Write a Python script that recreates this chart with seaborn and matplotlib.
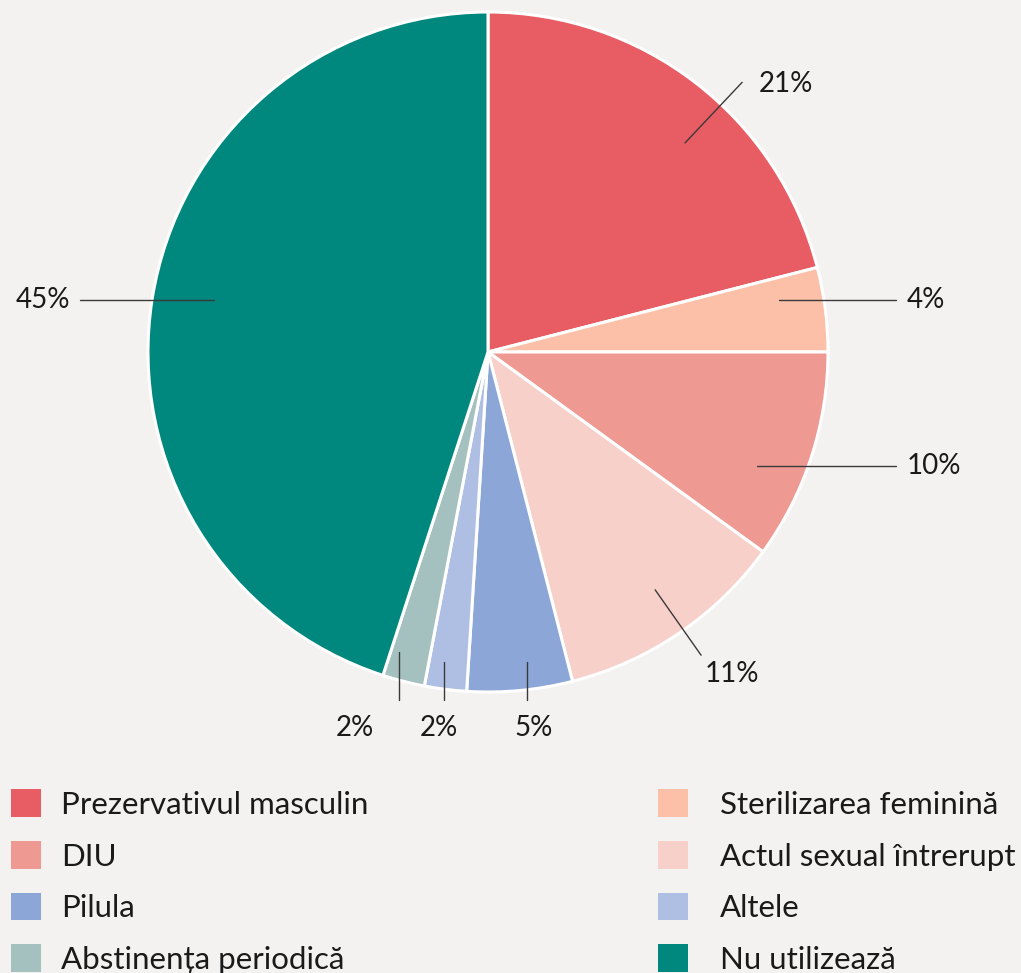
import numpy as np
import matplotlib
matplotlib.use("Agg")
import matplotlib.pyplot as plt
from matplotlib.patches import Patch
import seaborn as sns

# ---- data ----
categories = ["Prezervativul masculin", "Sterilizarea feminină", "DIU",
              "Actul sexual întrerupt", "Pilula", "Altele",
              "Abstinența periodică", "Nu utilizează"]
values = [21, 4, 10, 11, 5, 2, 2, 45]
pct_labels = ["21%", "4%", "10%", "11%", "5%", "2%", "2%", "45%"]
colors = ["#E85D63", "#FCC0A8", "#EE9A93", "#F7D0CA",
          "#8CA6D7", "#AFBFE3", "#A5C1BF", "#00877E"]

# label layout: (kind, inner radius, angle nudge deg, text x shift)
label_layout = [("radial", 0.845, -5.5, 0.0),
                ("h", 0.87, 2.9, 0.0),
                ("h", 0.86, -4.9, 0.0),
                ("radial", 0.855, 0.9, 0.0),
                ("v", 0.92, 1.7, 0.02),
                ("v", 0.92, -0.9, -0.015),
                ("v", 0.92, -2.2, -0.13),
                ("h", 0.82, -1.7, 0.0)]

BG = "#F3F2F0"
sns.set_theme(style="white")
plt.rcParams["font.family"] = ["Lato", "DejaVu Sans"]
palette = sns.color_palette(colors)

W, H = 1021, 973
fig = plt.figure(figsize=(W / 100, H / 100), dpi=100, facecolor=BG)
ax = fig.add_axes([0, 0, 1, 1])
ax.set_facecolor(BG)

cx, cy, R = 488, 352, 340
wedges, _ = ax.pie(values, colors=palette, startangle=90, counterclock=False,
                   radius=1.0, center=(0, 0),
                   wedgeprops=dict(edgecolor="white", linewidth=2.2))
ax.set_aspect("auto")
ax.set_xlim(-cx / R, (W - cx) / R)
ax.set_ylim((cy - H) / R, cy / R)
ax.axis("off")

fs = 20
txtc = "#1a1a1a"
linec = "#3a3a3a"
for w, lab, (kind, rin, nudge, tdx) in zip(wedges, pct_labels, label_layout):
    mid = np.deg2rad((w.theta1 + w.theta2) / 2 + nudge)
    x0, y0 = rin * np.cos(mid), rin * np.sin(mid)
    if kind == "radial":
        x1, y1 = 1.09 * np.cos(mid), 1.09 * np.sin(mid)
        ax.plot([x0, x1], [y0, y1], color=linec, lw=1.0)
        if np.sin(mid) > 0:
            ax.text(x1 + 0.05, y1 - 0.005, lab, ha="left", va="center",
                    fontsize=fs, color=txtc)
        else:
            ax.text(x1 + 0.09, y1 - 0.055, lab, ha="center", va="center",
                    fontsize=fs, color=txtc)
    elif kind == "h":
        sgn = 1 if np.cos(mid) > 0 else -1
        x1 = sgn * 1.2
        ax.plot([x0, x1], [y0, y0], color=linec, lw=1.0)
        ax.text(x1 + sgn * 0.03, y0, lab, ha="left" if sgn > 0 else "right",
                va="center", fontsize=fs, color=txtc)
    else:
        y1 = -1.024
        ax.plot([x0, x0], [y0, y1], color=linec, lw=1.0)
        ax.text(x0 + tdx, -1.105, lab, ha="center", va="center",
                fontsize=fs, color=txtc)

lfs = 22.5
handles = [Patch(facecolor=c, edgecolor="none") for c in palette]
left_idx = [0, 2, 4, 6]
right_idx = [1, 3, 5, 7]
for idx, xpos, pad in ((left_idx, 2 / W, 0.62), (right_idx, 649 / W, 1.02)):
    leg = fig.legend([handles[i] for i in idx], [categories[i] for i in idx],
                     loc="upper left", bbox_to_anchor=(xpos, 1 - 780 / H),
                     frameon=False, fontsize=lfs, handlelength=0.96,
                     handleheight=1.0, handletextpad=pad, labelspacing=0.70,
                     borderaxespad=0, borderpad=0.3, labelcolor=txtc)

fig.savefig("out.png", dpi=100, facecolor=BG)
